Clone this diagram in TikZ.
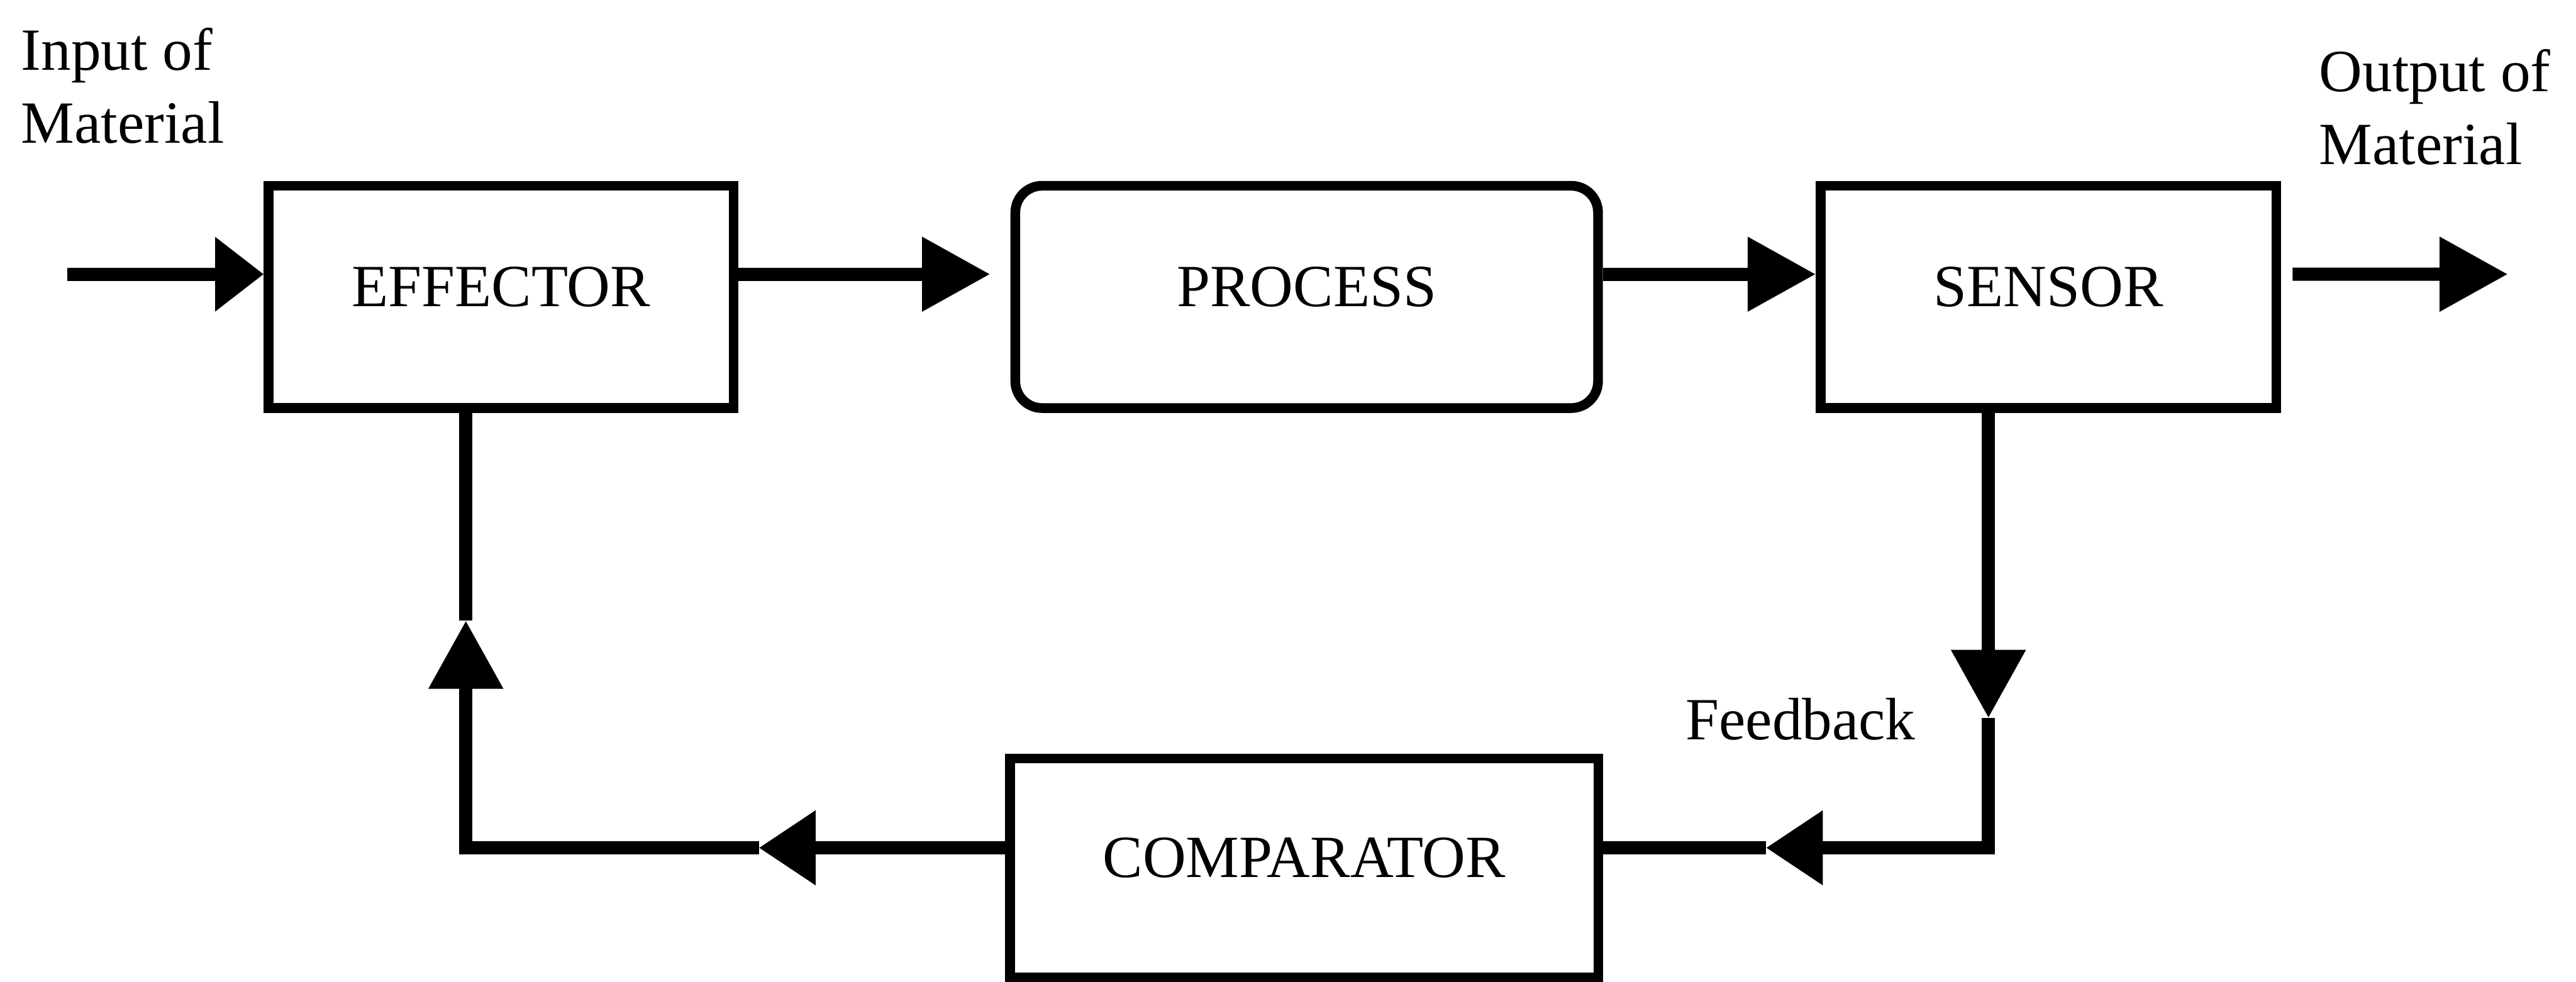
\documentclass[tikz,border=0pt]{standalone}
\usepackage{fontspec}
\setmainfont{Liberation Serif}
\usetikzlibrary{arrows.meta}

\tikzset{
	bloc/.style={draw, line width=3.4pt, minimum height=2.74cm, inner sep=0pt, text depth=2.6mm},
	wire/.style={line width=4.6pt},
	link/.style={wire, -{Triangle[length=8.4mm,width=8.8mm]}},
	back/.style={wire, -{Triangle[length=7mm,width=8.8mm]}}
}

\begin{document}
\begin{tikzpicture}[font=\fontsize{21}{25.5}\selectfont]
		\useasboundingbox (0,0) rectangle (31.74,12.1);

		% Blocs
		\node[bloc, minimum width=5.73cm] (effector) at (6.175,8.44) {EFFECTOR};
		\node[bloc, rounded corners=3.3mm, minimum width=7.18cm] (process) at (16.10,8.44) {PROCESS};
		\node[bloc, minimum width=5.615cm] (sensor) at (25.24,8.44) {SENSOR};
		\node[bloc, minimum width=7.25cm, minimum height=2.70cm] (comparator) at (16.07,1.40) {COMPARATOR};

		% Labels
		\node[anchor=north west, align=left, inner sep=0pt] (input) at (0.255,11.76) {Input of\\Material};
		\node[anchor=north west, align=left, inner sep=0pt] (output) at (28.57,11.5) {Output of\\Material};
		\node[anchor=base west, inner sep=0pt] (feedback) at (20.765,2.98) {Feedback};

		% Material flow
		\coordinate (in) at (0.83,8.72);
		\coordinate (out) at (30.9,8.72);
		\draw[wire, -{Triangle[length=6mm,width=8.8mm]}] (in) -- (in -| effector.west);
		\draw[link, shorten >=2.5mm] ([yshift=2.8mm]effector.east) -- ([yshift=2.8mm]process.west);
		\draw[link] ([yshift=2.8mm]process.east) -- ([yshift=2.8mm]sensor.west);
		\draw[link, shorten <=1.4mm] ([yshift=2.8mm]sensor.east) -- (out);

		% Feedback loop
		\coordinate (fbhead) at (24.5,3.25);
		\coordinate (cmphead) at (21.76,1.65);
		\coordinate (lefthead) at (9.35,1.65);
		\coordinate (uphead) at (5.74,4.45);
		\draw[link] (sensor.south -| fbhead) -- (fbhead);
		\draw[back] (fbhead) |- (cmphead);
		\draw[wire] (cmphead) -- (comparator.east |- cmphead);
		\draw[back] (comparator.west |- lefthead) -- (lefthead);
		\draw[link] (lefthead) -| (uphead);
		\draw[wire] (uphead) -- (uphead |- effector.south);
	\end{tikzpicture}
\end{document}
